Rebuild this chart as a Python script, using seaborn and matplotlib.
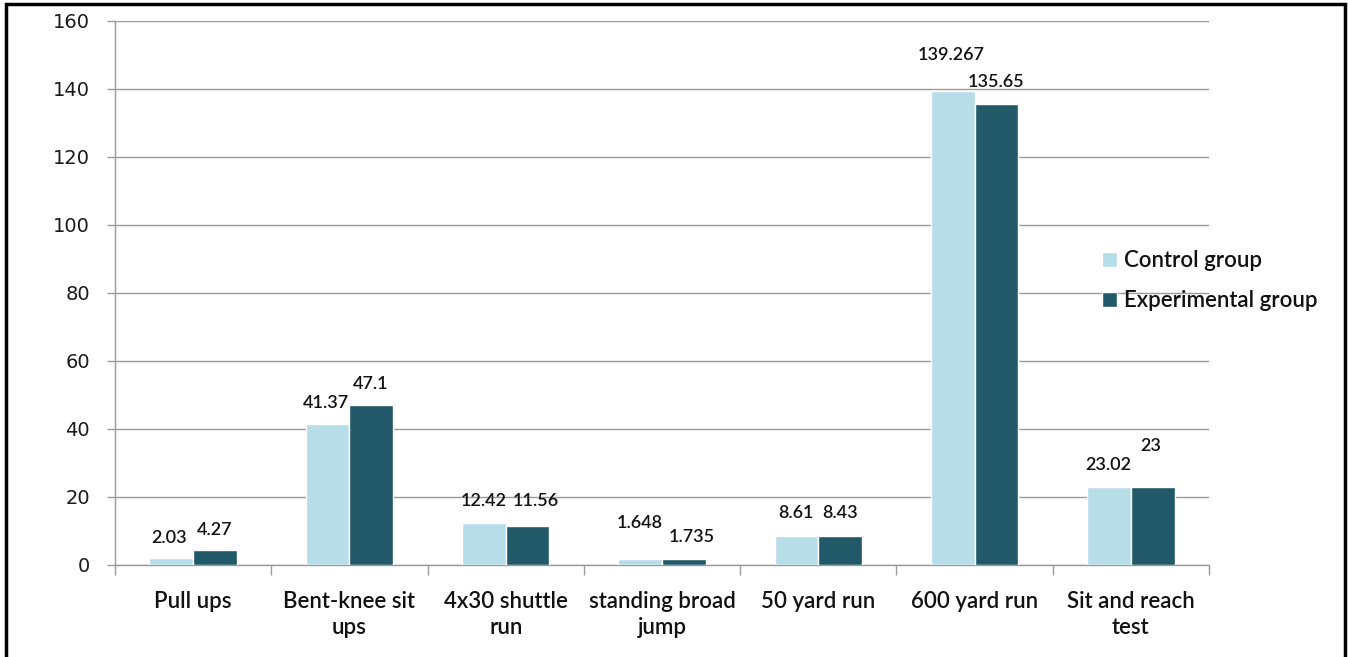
import numpy as np
import pandas as pd
import matplotlib
matplotlib.use('Agg')
import matplotlib.pyplot as plt
import seaborn as sns
from matplotlib.patches import Rectangle

# data
tests = ['Pull ups', 'Bent-knee sit\nups', '4x30 shuttle\nrun', 'standing broad\njump',
         '50 yard run', '600 yard run', 'Sit and reach\ntest']
control = [2.03, 41.37, 12.42, 1.648, 8.61, 139.267, 23.02]
experimental = [4.27, 47.1, 11.56, 1.735, 8.43, 135.65, 23]
control_labels = ['2.03', '41.37', '12.42', '1.648', '8.61', '139.267', '23.02']
experimental_labels = ['4.27', '47.1', '11.56', '1.735', '8.43', '135.65', '23']
groups = ['Control group', 'Experimental group']

df = pd.DataFrame({
    'test': tests * 2,
    'value': control + experimental,
    'group': [groups[0]] * len(tests) + [groups[1]] * len(tests),
})

#   label nudges (pixels) so they sit like the original
ctrl_nudge = [(-2, 20), (-2, 21), (0, 22), (0, 36), (0, 23), (-2, 36), (-1, 22)]
exp_nudge = [(0, 20), (-1, 21), (8, 25), (8, 22), (0, 23), (0, 22), (-2, 41)]

sns.set_style('white')
plt.rcParams['font.family'] = ['Lato', 'DejaVu Sans']

fig = plt.figure(figsize=(13.48, 6.57), dpi=100)
ax = fig.add_axes([115 / 1348, 1 - 565 / 657, 1094 / 1348, 544 / 657])

sns.barplot(data=df, x='test', y='value', hue='group', palette=['#b7dde8', '#215968'],
            width=0.56, gap=0, saturation=1, errorbar=None, ax=ax, zorder=3)

ax.set_ylim(0, 160)
ax.set_yticks(np.arange(0, 161, 20))
ax.set_xlim(-0.5, len(tests) - 0.5)
ax.set_xlabel('')
ax.set_ylabel('')

gray = '#9a9a9a'
ax.yaxis.grid(True, color=gray, lw=1)
ax.set_axisbelow(True)
for s in ['top', 'right']:
    ax.spines[s].set_visible(False)
for s in ['left', 'bottom']:
    ax.spines[s].set_color(gray)
    ax.spines[s].set_linewidth(1)

ax.tick_params(axis='y', left=True, length=6, width=1, color=gray, pad=12,
               labelsize=14, labelcolor='#1a1a1a')
for t in ax.get_yticklabels():
    t.set_family('DejaVu Sans')
ax.set_xticks(np.arange(-0.5, len(tests), 1.0), minor=True)
ax.tick_params(axis='x', which='minor', bottom=True, length=7, width=1, color=gray)
ax.tick_params(axis='x', which='major', bottom=False, length=0, pad=19,
               labelsize=16, labelcolor='#111111')
for t in ax.get_xticklabels():
    t.set_fontweight('semibold')
    t.set_linespacing(1.3)

#   value labels
for container, labels, nudges in zip(ax.containers, [control_labels, experimental_labels],
                                     [ctrl_nudge, exp_nudge]):
    for bar, lab, (dx, dy) in zip(container, labels, nudges):
        ax.annotate(lab, (bar.get_x() + bar.get_width() / 2, bar.get_height()),
                    xytext=(dx, dy), textcoords='offset pixels', ha='center', va='center',
                    fontsize=13, fontweight='semibold', color='#111111')

leg = ax.legend(loc='center left', bbox_to_anchor=(1102 / 1348, 1 - 280.5 / 657),
                bbox_transform=fig.transFigure, frameon=False, fontsize=16,
                handlelength=0.68, handleheight=0.68, handletextpad=0.3,
                labelspacing=0.85, borderpad=0, borderaxespad=0, labelcolor='#111111')
for t in leg.get_texts():
    t.set_fontweight('semibold')

#   black frame round the picture
fig.patches.append(Rectangle((5.5 / 1348, -0.1), 1339.5 / 1348, 1.1 - 3.5 / 657,
                             transform=fig.transFigure, fill=False, lw=2.5,
                             edgecolor='black', clip_on=False))

plt.savefig('out.png', dpi=100)
